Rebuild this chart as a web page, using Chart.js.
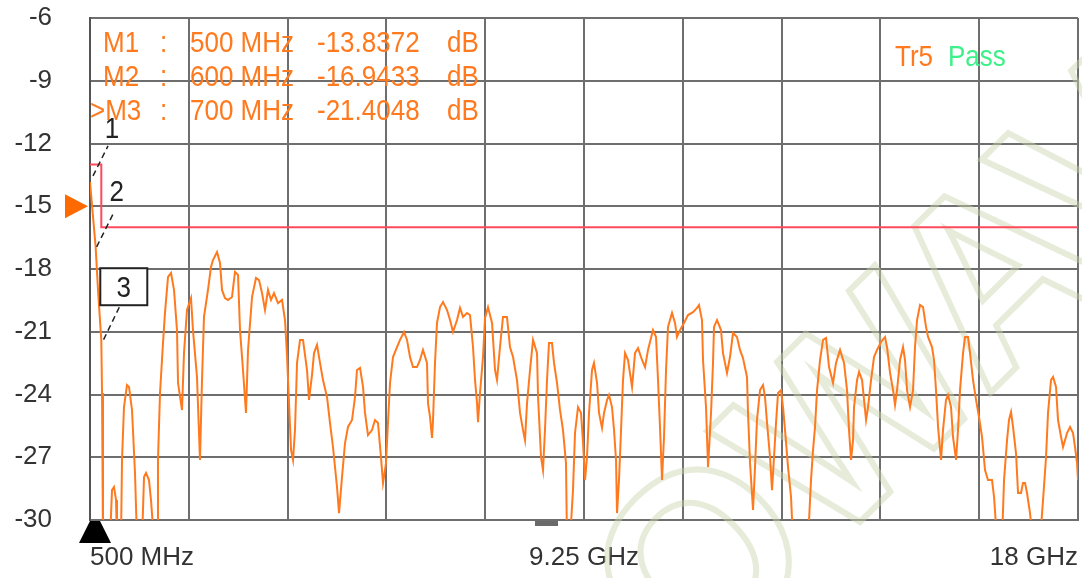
<!DOCTYPE html>
<html>
<head>
<meta charset="utf-8">
<script src="https://cdn.jsdelivr.net/npm/chart.js@4.4.1/dist/chart.umd.min.js"></script>
<style>
  html, body { margin: 0; padding: 0; background: #fff; }
  #wrap { width: 1082px; height: 578px; }
</style>
</head>
<body>
<div id="wrap"><canvas id="c"></canvas></div>
<script>
// trace Tr5 (dB vs GHz), -31 = below the bottom of the screen
const freqGHz = [
  0.5,0.6,0.642,0.7,0.713,0.73,0.854,0.89,0.925,0.961,
  0.978,1.049,1.067,1.102,1.155,1.191,1.244,1.297,1.333,1.421,
  1.457,1.492,1.545,1.58,1.634,1.687,1.704,1.74,1.793,1.828,
  1.882,1.935,1.988,2.041,2.059,2.13,2.165,2.218,2.289,2.324,
  2.395,2.448,2.484,2.519,2.59,2.643,2.679,2.75,2.803,2.838,
  2.891,2.944,3.015,3.068,3.122,3.157,3.21,3.263,3.299,3.37,
  3.44,3.494,3.547,3.6,3.653,3.706,3.759,3.83,3.901,3.954,
  3.989,4.025,4.061,4.096,4.131,4.167,4.22,4.273,4.344,4.379,
  4.432,4.468,4.521,4.574,4.627,4.698,4.751,4.804,4.875,4.911,
  4.964,5.017,5.07,5.141,5.194,5.229,5.283,5.336,5.371,5.424,
  5.495,5.548,5.601,5.654,5.69,5.743,5.778,5.814,5.867,5.938,
  5.991,6.062,6.115,6.168,6.221,6.292,6.345,6.398,6.469,6.487,
  6.523,6.558,6.576,6.611,6.646,6.7,6.753,6.824,6.877,6.93,
  7.001,7.054,7.107,7.178,7.231,7.284,7.32,7.355,7.373,7.408,
  7.461,7.497,7.55,7.621,7.674,7.709,7.762,7.815,7.886,7.939,
  7.993,8.063,8.117,8.17,8.205,8.241,8.294,8.347,8.418,8.436,
  8.489,8.524,8.559,8.595,8.63,8.683,8.719,8.772,8.825,8.878,
  8.931,8.949,9.002,9.055,9.091,9.144,9.197,9.233,9.268,9.303,
  9.339,9.392,9.427,9.481,9.516,9.569,9.605,9.658,9.693,9.746,
  9.782,9.817,9.835,9.87,9.906,9.941,9.977,10.03,10.101,10.154,
  10.207,10.278,10.331,10.384,10.472,10.526,10.561,10.596,10.632,10.667,
  10.703,10.738,10.809,10.862,10.897,10.951,11.021,11.092,11.181,11.252,
  11.287,11.34,11.358,11.411,11.447,11.5,11.535,11.553,11.606,11.677,
  11.712,11.783,11.836,11.889,11.96,12.013,12.066,12.137,12.155,12.191,
  12.244,12.279,12.314,12.368,12.421,12.456,12.492,12.545,12.58,12.616,
  12.651,12.687,12.74,12.775,12.811,12.864,12.917,12.952,13.218,13.271,
  13.307,13.342,13.378,13.431,13.484,13.537,13.59,13.661,13.714,13.785,
  13.856,13.909,13.944,13.98,14.015,14.033,14.086,14.122,14.175,14.21,
  14.246,14.281,14.334,14.387,14.44,14.511,14.582,14.617,14.671,14.724,
  14.759,14.795,14.848,14.901,14.936,14.972,15.025,15.078,15.113,15.149,
  15.202,15.255,15.308,15.344,15.414,15.45,15.485,15.521,15.574,15.609,
  15.662,15.698,15.751,15.786,15.84,15.875,15.91,15.964,15.999,16.052,
  16.088,16.141,16.194,16.247,16.3,16.353,16.406,16.477,16.513,16.566,
  16.654,16.69,16.743,16.778,16.814,16.849,16.902,16.938,16.991,17.026,
  17.062,17.097,17.15,17.203,17.327,17.381,17.434,17.469,17.522,17.558,
  17.611,17.646,17.7,17.735,17.806,17.859,17.912,17.947,17.983,18.0
];
const traceDb = [
  -13.84,-16.94,-19.0,-21.4,-23.93,-31,-31,-28.57,-28.42,-29.04,
  -31,-31,-27.13,-24.6,-23.55,-23.64,-24.74,-27.75,-31,-31,
  -27.94,-27.75,-28.09,-29.04,-31,-31,-27.13,-23.93,-21.54,-20.1,
  -18.38,-18.19,-19.0,-20.92,-23.45,-24.74,-22.02,-19.96,-19.39,-20.92,
  -23.16,-27.13,-23.31,-20.29,-19.0,-17.9,-17.57,-17.19,-17.71,-19.0,
  -19.39,-19.48,-19.34,-18.14,-18.28,-20.92,-22.83,-24.88,-21.87,-19.34,
  -18.43,-18.53,-19.15,-19.96,-19.0,-19.48,-19.15,-19.63,-19.48,-20.44,
  -22.11,-24.41,-26.65,-27.13,-25.7,-22.49,-21.39,-21.39,-22.83,-24.26,
  -23.07,-22.02,-21.63,-22.49,-23.31,-24.12,-25.36,-26.51,-28.42,-29.67,
  -27.94,-26.32,-25.55,-25.22,-24.12,-22.83,-22.73,-23.64,-24.88,-25.94,
  -25.7,-25.22,-25.36,-26.99,-28.23,-27.28,-25.36,-23.45,-22.21,-21.73,
  -21.39,-21.01,-21.39,-22.21,-22.69,-22.69,-22.35,-21.87,-22.49,-24.41,
  -25.08,-26.08,-25.22,-22.49,-20.58,-19.82,-19.58,-19.96,-20.44,-21.01,
  -20.44,-19.86,-20.29,-20.1,-20.2,-21.73,-23.31,-24.41,-25.32,-23.93,
  -22.21,-20.34,-19.82,-20.58,-22.83,-23.31,-21.73,-20.29,-20.29,-21.73,
  -22.21,-23.31,-24.88,-25.7,-26.18,-24.41,-22.83,-21.39,-22.02,-24.12,
  -26.99,-27.61,-25.7,-23.31,-21.54,-21.54,-22.49,-23.45,-24.74,-25.7,
  -27.28,-31,-31,-28.57,-25.84,-24.6,-24.88,-26.32,-28.09,-26.99,
  -24.88,-22.83,-22.49,-23.45,-24.88,-25.6,-24.88,-24.26,-24.02,-24.6,
  -25.7,-27.13,-29.67,-28.09,-25.7,-23.31,-22.02,-22.35,-23.64,-22.02,
  -21.78,-22.35,-22.69,-21.87,-20.92,-21.25,-23.31,-25.55,-28.09,-26.03,
  -22.83,-20.77,-20.1,-20.58,-21.25,-20.92,-20.58,-20.2,-20.06,-19.86,
  -19.72,-20.44,-22.35,-24.6,-27.47,-24.88,-22.49,-20.77,-20.44,-20.92,
  -22.02,-22.97,-22.21,-21.06,-21.25,-21.87,-22.26,-23.16,-24.88,-27.28,
  -29.52,-27.47,-25.22,-23.79,-23.55,-24.12,-25.36,-26.99,-28.57,-26.99,
  -25.36,-23.93,-23.79,-24.6,-25.7,-27.47,-28.9,-31,-31,-28.09,
  -26.65,-25.55,-23.79,-22.35,-21.39,-21.3,-22.69,-23.45,-22.49,-21.87,
  -22.49,-23.79,-25.7,-27.13,-26.18,-24.6,-23.31,-22.92,-23.31,-24.26,
  -25.22,-24.6,-23.31,-22.21,-21.87,-21.49,-21.25,-21.73,-22.97,-23.79,
  -24.5,-23.79,-22.35,-21.73,-22.35,-23.79,-24.6,-23.79,-21.73,-20.44,
  -19.72,-19.82,-20.77,-21.25,-21.73,-22.35,-23.79,-25.55,-27.13,-25.7,
  -24.26,-24.02,-24.6,-26.03,-27.13,-25.7,-23.79,-22.02,-21.25,-21.25,
  -22.02,-23.31,-24.26,-25.08,-26.03,-27.61,-28.09,-28.09,-28.9,-31,
  -31,-28.09,-26.18,-25.22,-24.84,-25.55,-26.8,-28.71,-28.71,-28.23,
  -28.23,-28.71,-29.67,-31,-31,-29.04,-26.99,-24.88,-23.31,-23.16,
  -23.64,-25.22,-26.03,-26.51,-25.84,-25.55,-25.84,-26.51,-27.28,-28.09
];

// limit line
const limitGHz = [0.5, 0.7, 0.7, 18];
const limitDb = [-13, -13, -16, -16];

// markers
const markerNames = ['M1', 'M2', '>M3'];
const markerGHz = [0.5, 0.6, 0.7];
const markerDb = [-13.8372, -16.9433, -21.4048];
const markerFreqText = ['500 MHz', '600 MHz', '700 MHz'];

// axes
const xStart = 0.5, xStop = 18, xDivs = 10;
const yMin = -30, yMax = -6, yStep = 3;
const xLabels = ['500 MHz', '9.25 GHz', '18 GHz'];
const refLevel = -15;

const FONT = '"Liberation Sans", Arial, sans-serif';
const ORANGE = '#ff7a1f';
const GRID = '#6e6e6e';

// screen font is a bit taller than Liberation, stretch it a little
function tallText(ctx, txt, x, y) {
  ctx.save();
  ctx.translate(x, y);
  ctx.scale(1, 1.15);
  ctx.fillText(txt, 0, 0);
  ctx.restore();
}

var overlay = {
  id: 'overlay',
  beforeDatasetsDraw(chart) {
    // faint watermark behind the trace
    const ctx = chart.ctx;
    ctx.save();
    ctx.translate(690, 690);
    ctx.rotate(-0.78);
    ctx.font = 'bold 250px ' + FONT;
    ctx.strokeStyle = 'rgba(200,212,170,0.45)';
    ctx.lineWidth = 6;
    ctx.strokeText('OWAVE', 0, 0);
    ctx.restore();
  },
  afterDraw(chart) {
    const ctx = chart.ctx;
    const xs = chart.scales.x, ys = chart.scales.y;
    const area = chart.chartArea;
    ctx.save();

    // marker readout
    ctx.font = '26px ' + FONT;
    ctx.fillStyle = ORANGE;
    ctx.textBaseline = 'alphabetic';
    for (let i = 0; i < markerNames.length; i++) {
      const base = 52 + i * 34;
      const nx = markerNames[i].startsWith('>') ? 90 : 103;
      tallText(ctx, markerNames[i], nx, base);
      tallText(ctx, ':', 160, base);
      tallText(ctx, markerFreqText[i], 190, base);
      tallText(ctx, markerDb[i].toFixed(4), 317, base);
      tallText(ctx, 'dB', 447, base);
    }

    // Tr5 Pass
    ctx.fillStyle = ORANGE;
    tallText(ctx, 'Tr5', 895, 66);
    ctx.fillStyle = '#3df08a';
    tallText(ctx, 'Pass', 948, 66);

    // marker flags with dashed leaders
    const mp = markerGHz.map((f, i) => [xs.getPixelForValue(f), ys.getPixelForValue(markerDb[i])]);
    ctx.strokeStyle = '#222';
    ctx.lineWidth = 1.5;
    ctx.setLineDash([6, 4]);
    const leaders = [[[3, -6], [18, -36]], [[1, 0], [18, -34]], [[18, -33], [2, 0]]];
    leaders.forEach((l, i) => {
      ctx.beginPath();
      ctx.moveTo(mp[i][0] + l[0][0], mp[i][1] + l[0][1]);
      ctx.lineTo(mp[i][0] + l[1][0], mp[i][1] + l[1][1]);
      ctx.stroke();
    });
    ctx.setLineDash([]);
    ctx.fillStyle = '#222';
    ctx.font = '26px ' + FONT;
    ctx.textAlign = 'center';
    tallText(ctx, '1', mp[0][0] + 22, mp[0][1] - 44);
    tallText(ctx, '2', mp[1][0] + 21, mp[1][1] - 46);
    // boxed active marker
    const bx = mp[2][0] - 1, by = mp[2][1] - 72;
    ctx.fillStyle = '#fff';
    ctx.fillRect(bx, by, 47, 37);
    ctx.strokeStyle = '#222';
    ctx.lineWidth = 2;
    ctx.strokeRect(bx, by, 47, 37);
    ctx.fillStyle = '#222';
    tallText(ctx, '3', bx + 23.5, by + 29);

    // reference level arrow
    const ry = ys.getPixelForValue(refLevel);
    ctx.fillStyle = '#ff6a00';
    ctx.beginPath();
    ctx.moveTo(area.left - 2, ry);
    ctx.lineTo(area.left - 25, ry - 12);
    ctx.lineTo(area.left - 25, ry + 12);
    ctx.closePath();
    ctx.fill();

    // stimulus start marker
    const sx = xs.getPixelForValue(xStart);
    ctx.fillStyle = '#000';
    ctx.beginPath();
    ctx.moveTo(sx, area.bottom + 1);
    ctx.lineTo(sx + 10, area.bottom + 1);
    ctx.lineTo(sx + 21, area.bottom + 23);
    ctx.lineTo(sx - 11, area.bottom + 23);
    ctx.closePath();
    ctx.fill();

    // small scroll bar below centre
    const cx = (area.left + area.right) / 2;
    ctx.fillStyle = '#6a6a6a';
    ctx.fillRect(cx - 49, area.bottom + 1, 23, 5);

    ctx.restore();
  }
};

new Chart(document.getElementById('c'), {
  type: 'line',
  data: {
    datasets: [
      {
        label: 'Tr5',
        data: freqGHz.map((f, i) => ({ x: f, y: traceDb[i] })),
        borderColor: ORANGE,
        borderWidth: 2,
        pointRadius: 0,
        tension: 0,
        clip: 0
      },
      {
        label: 'Limit',
        data: limitGHz.map((f, i) => ({ x: f, y: limitDb[i] })),
        borderColor: '#ff4a5c',
        borderWidth: 2,
        pointRadius: 0,
        tension: 0,
        clip: 0
      }
    ]
  },
  options: {
    responsive: true,
    maintainAspectRatio: false,
    animation: false,
    layout: { padding: { top: 18, right: 4, left: 0, bottom: 0 } },
    plugins: { legend: { display: false }, tooltip: { enabled: false } },
    scales: {
      x: {
        type: 'linear',
        min: xStart,
        max: xStop,
        afterBuildTicks: s => {
          const step = (xStop - xStart) / xDivs;
          s.ticks = [];
          for (let i = 0; i <= xDivs; i++) s.ticks.push({ value: xStart + i * step });
        },
        afterFit: s => {
          s.height = 58;
          s.paddingLeft = 0; s.paddingRight = 0; s.paddingTop = 0; s.paddingBottom = 0;
        },
        grid: { color: GRID, lineWidth: 2, drawTicks: false },
        border: { color: GRID, width: 2 },
        ticks: {
          autoSkip: false,
          maxRotation: 0,
          align: 'inner',
          padding: 22,
          color: '#333',
          font: { family: FONT, size: 26 },
          callback: (v, i, t) => i === 0 ? xLabels[0] : i === xDivs / 2 ? xLabels[1] : i === xDivs ? xLabels[2] : ''
        }
      },
      y: {
        min: yMin,
        max: yMax,
        afterFit: s => {
          s.width = 90;
          s.paddingLeft = 0; s.paddingRight = 0; s.paddingTop = 0; s.paddingBottom = 0;
        },
        grid: { color: GRID, lineWidth: 2, drawTicks: false },
        border: { color: '#555', width: 2 },
        ticks: {
          stepSize: yStep,
          padding: 38,
          color: '#333',
          font: { family: FONT, size: 26 }
        }
      }
    }
  },
  plugins: [overlay]
});
</script>
</body>
</html>
